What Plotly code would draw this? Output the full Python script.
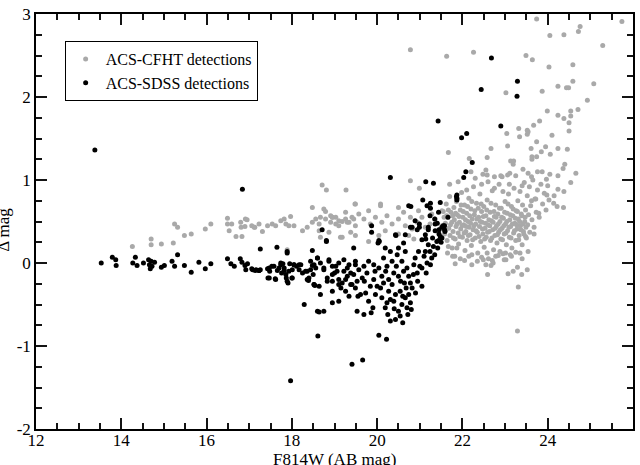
import plotly.graph_objects as go

# ---------------- data ----------------
cfht_points = [
    # sparse upper-right tail
    (20.78, 2.57), (21.63, 2.49), (22.26, 2.54), (23.74, 2.94), (24.05, 2.74), (24.38, 2.75),
    (24.72, 2.79), (24.76, 2.85), (25.74, 2.91), (25.29, 2.62), (23.49, 2.50), (23.64, 2.45),
    (24.03, 2.36), (24.59, 2.39), (24.59, 2.19), (25.08, 2.16), (24.24, 2.13), (24.44, 2.11),
    (24.49, 2.11), (23.87, 2.07), (23.02, 2.05), (24.93, 1.96), (24.71, 1.85), (23.99, 1.83),
    (24.24, 1.78), (24.54, 1.77), (24.38, 1.74), (24.50, 1.69), (23.81, 1.71), (23.67, 1.66),
    (23.32, 1.62), (23.52, 1.60), (23.54, 1.58), (23.52, 1.55), (24.50, 1.59), (23.04, 1.56),
    (24.10, 1.54), (23.34, 1.52), (23.74, 1.46), (23.06, 1.41), (23.95, 1.40), (23.61, 1.38),
    (24.24, 1.38), (24.46, 1.37), (23.85, 1.34), (24.06, 1.31), (21.67, 1.33), (22.67, 1.38),
    (22.16, 1.26), (22.58, 1.27), (23.63, 1.28), (23.74, 1.28), (23.63, 1.25), (23.13, 1.23),
    (23.20, 1.23), (24.54, 1.83),
    (18.71, 0.94), (18.81, 0.88), (19.27, 0.88), (20.78, 0.99), (19.48, 0.71), (20.08, 0.71),
    (20.99, 0.90), (22.48, 1.07), (22.58, 1.06), (22.75, 1.04), (22.93, 1.04), (23.06, 1.06),
    (23.11, 1.08), (23.19, 1.19), (23.42, 1.13), (23.62, 1.04), (23.54, 1.08), (23.76, 1.10),
    (23.87, 1.10), (23.97, 1.01), (24.05, 1.07), (24.24, 1.05), (24.40, 1.19), (24.36, 1.14),
    (24.54, 0.97), (24.66, 1.08),
    (23.98, 0.82), (24.03, 0.76), (24.14, 0.72), (24.22, 0.68), (24.37, 0.67), (24.15, 0.81),
    (24.24, 0.89), (24.38, 0.86), (23.79, 0.60), (23.68, 0.35), (23.48, 0.32), (23.62, 0.75),
    (23.72, 0.77),
    # lower edge of the faint cloud
    (21.83, -0.01), (21.77, 0.08), (22.59, -0.14), (22.67, -0.03), (22.72, 0.00), (23.07, -0.13),
    (23.19, -0.10), (23.29, -0.05), (23.39, -0.14), (23.52, -0.08), (23.31, -0.29), (23.29, -0.82),
    (22.22, 0.10), (22.49, 0.04), (22.55, -0.02), (22.84, 0.09), (22.98, 0.04), (23.01, 0.12),
    (23.15, 0.08), (23.35, 0.12), (23.54, 0.14), (21.67, 0.20), (21.87, 0.18),
    # bright band
    (14.26, 0.20), (14.70, 0.29), (14.70, 0.22), (14.94, 0.23), (15.22, 0.24), (15.25, 0.47),
    (15.32, 0.43), (15.48, 0.33), (15.64, 0.35), (15.97, 0.41), (16.10, 0.47), (16.49, 0.54),
    (16.49, 0.47), (16.59, 0.47), (16.53, 0.39), (16.69, 0.32), (16.83, 0.32), (16.80, 0.49),
    (16.81, 0.43), (16.90, 0.44), (16.91, 0.53), (16.95, 0.52), (17.06, 0.45), (17.13, 0.43),
    (17.23, 0.47), (17.89, 0.16),
    (17.12, 0.43), (17.31, 0.38), (17.43, 0.45), (17.54, 0.47), (17.62, 0.45), (17.74, 0.51),
    (17.82, 0.53), (17.86, 0.47), (17.97, 0.56), (17.93, 0.45), (18.05, 0.45), (18.25, 0.39),
    (18.36, 0.43), (18.48, 0.49), (18.56, 0.53), (18.64, 0.47), (18.67, 0.55), (18.79, 0.53),
    (18.91, 0.49), (18.95, 0.55), (19.03, 0.47), (19.10, 0.45), (19.18, 0.50), (19.26, 0.53),
    (19.34, 0.49), (19.41, 0.55), (19.49, 0.45), (18.67, 0.31), (19.14, 0.31), (19.38, 0.37),
    (18.48, 0.67), (18.79, 0.62), (18.91, 0.57), (19.03, 0.55), (19.26, 0.61), (19.49, 0.71),
    (18.75, 0.65), (18.95, 0.55), (19.10, 0.51), (19.30, 0.49), (19.45, 0.53), (19.57, 0.59),
    (19.69, 0.53), (19.80, 0.63), (19.84, 0.47), (19.96, 0.55), (20.08, 0.69), (20.11, 0.49),
    (20.23, 0.57), (20.35, 0.47), (20.50, 0.67), (20.50, 0.53), (20.62, 0.61), (20.66, 0.45),
    (20.78, 0.55), (20.82, 0.41), (20.94, 0.49), (20.97, 0.63), (21.05, 0.55), (21.13, 0.43),
    (21.24, 0.47), (21.28, 0.59), (21.36, 0.53), (21.48, 0.41), (21.59, 0.47), (21.63, 0.57),
    (21.52, 0.63), (18.64, 0.39), (18.87, 0.37), (19.18, 0.31), (19.49, 0.33), (19.80, 0.26),
    (20.04, 0.33), (20.19, 0.39), (20.50, 0.35), (20.74, 0.33), (20.86, 0.29),
    # dense faint cloud
    (21.55, 0.62), (21.58, 0.35), (21.60, 0.48), (21.62, 0.71), (21.64, 0.27), (21.66, 0.55),
    (21.68, 0.42), (21.70, 0.80), (21.71, 0.33), (21.73, 0.61), (21.75, 0.49), (21.76, 0.18),
    (21.78, 0.38), (21.80, 0.67), (21.81, 0.52), (21.83, 0.29), (21.85, 0.44), (21.86, 0.74),
    (21.88, 0.58), (21.90, 0.36), (21.91, 0.23), (21.93, 0.49), (21.95, 0.64), (21.96, 0.41),
    (21.98, 0.85), (22.00, 0.31), (22.01, 0.55), (22.03, 0.46), (22.05, 0.70), (22.06, 0.15),
    (22.08, 0.38), (22.10, 0.60), (22.11, 0.27), (22.13, 0.50), (22.15, 0.78), (22.16, 0.43),
    (22.18, 0.34), (22.20, 0.65), (22.21, 0.21), (22.23, 0.53), (22.25, 0.40), (22.26, 0.92),
    (22.28, 0.58), (22.30, 0.30), (22.31, 0.47), (22.33, 0.72), (22.35, 0.37), (22.36, 0.12),
    (22.38, 0.55), (22.40, 0.44), (22.41, 0.83), (22.43, 0.26), (22.45, 0.62), (22.46, 0.49),
    (22.48, 0.35), (22.50, 0.68), (22.51, 0.19), (22.53, 0.42), (22.55, 0.57), (22.56, 0.31),
    (22.58, 0.76), (22.60, 0.46), (22.61, 0.05), (22.63, 0.38), (22.65, 0.61), (22.66, 0.27),
    (22.68, 0.51), (22.70, 0.87), (22.71, 0.40), (22.73, 0.16), (22.75, 0.56), (22.76, 0.33),
    (22.78, 0.70), (22.80, 0.45), (22.81, 0.24), (22.83, 0.59), (22.85, 0.37), (22.86, 0.95),
    (22.88, 0.50), (22.90, 0.29), (22.91, 0.66), (22.93, 0.42), (22.95, 0.11), (22.96, 0.54),
    (22.98, 0.35), (23.00, 0.74), (23.01, 0.47), (23.03, 0.22), (23.05, 0.60), (23.06, 0.39),
    (23.08, 0.83), (23.10, 0.31), (23.11, 0.52), (23.13, 0.44), (23.15, 0.68), (23.16, 0.18),
    (23.18, 0.57), (23.20, 0.36), (23.21, 0.90), (23.23, 0.48), (23.25, 0.27), (23.26, 0.63),
    (23.28, 0.41), (23.30, 0.75), (23.31, 0.53), (23.33, 0.33), (23.35, 0.86), (23.36, 0.45),
    (23.38, 0.59), (23.40, 0.22), (23.41, 0.70), (23.43, 0.38), (23.45, 0.97), (23.46, 0.50),
    (23.48, 0.64), (23.50, 0.30), (23.52, 0.81), (23.53, 0.46), (23.55, 0.58), (23.57, 0.92),
    (23.58, 0.37), (23.60, 0.69), (23.63, 0.52), (23.65, 1.00), (23.68, 0.43), (23.70, 0.77),
    (23.73, 0.61), (23.76, 0.88), (23.80, 0.55), (23.84, 0.95), (23.88, 0.71), (23.92, 0.84),
    (23.96, 0.64), (24.00, 0.93),
    (21.52, 0.45), (21.57, 0.55), (21.61, 0.40), (21.67, 0.64), (21.72, 0.46), (21.77, 0.57),
    (21.79, 0.30), (21.84, 0.60), (21.87, 0.47), (21.92, 0.56), (21.94, 0.32), (21.97, 0.70),
    (21.99, 0.45), (22.02, 0.62), (22.04, 0.36), (22.07, 0.52), (22.09, 0.44), (22.12, 0.68),
    (22.14, 0.33), (22.17, 0.57), (22.19, 0.48), (22.22, 0.74), (22.24, 0.28), (22.27, 0.45),
    (22.29, 0.63), (22.32, 0.39), (22.34, 0.53), (22.37, 0.66), (22.39, 0.32), (22.42, 0.50),
    (22.44, 0.71), (22.47, 0.41), (22.49, 0.56), (22.52, 0.29), (22.54, 0.48), (22.57, 0.64),
    (22.59, 0.37), (22.62, 0.52), (22.64, 0.45), (22.67, 0.72), (22.69, 0.30), (22.72, 0.49),
    (22.74, 0.62), (22.77, 0.42), (22.79, 0.55), (22.82, 0.34), (22.84, 0.47), (22.87, 0.66),
    (22.89, 0.40), (22.92, 0.55), (22.94, 0.28), (22.97, 0.45), (22.99, 0.61), (23.02, 0.36),
    (23.04, 0.50), (23.07, 0.71), (23.09, 0.43), (23.12, 0.58), (23.14, 0.30), (23.17, 0.47),
    (23.19, 0.65), (23.22, 0.39), (23.24, 0.54), (23.27, 0.46), (23.29, 0.62), (23.32, 0.28),
    (23.34, 0.50), (23.37, 0.40), (23.39, 0.57), (23.42, 0.47), (23.44, 0.35), (23.47, 0.55),
    (23.49, 0.43),
    (21.65, 0.12), (21.82, 0.08), (21.95, 0.05), (22.05, 0.03), (22.15, 0.08), (22.22, -0.02),
    (22.35, 0.02), (22.45, 0.07), (22.58, 0.12), (22.70, 0.03), (22.78, 0.08), (22.88, 0.14),
    (23.02, 0.04), (23.12, 0.10), (23.25, 0.13), (23.40, 0.05), (21.70, 0.95), (21.90, 0.98),
    (22.10, 0.88), (22.30, 1.02), (22.45, 0.95), (22.60, 0.98), (22.75, 0.90), (22.95, 0.86),
    (23.10, 0.95), (23.25, 1.05), (23.40, 0.93), (22.20, 1.10), (22.55, 1.12), (22.90, 1.05),
]

sdss_points = [
    (13.38, 1.36), (16.84, 0.89),
    (22.68, 2.47), (23.29, 2.19), (22.44, 2.09), (23.28, 2.01), (21.43, 1.71), (22.90, 1.65),
    (21.98, 1.51), (22.10, 1.56), (22.23, 1.21), (22.03, 1.03), (22.08, 1.10), (20.31, 1.03),
    (21.14, 0.98), (21.32, 0.96), (21.87, 0.82), (21.87, 0.78), (21.87, 0.76), (21.86, 0.80),
    (20.79, 0.68), (21.07, 0.76), (21.25, 0.72), (21.25, 0.66), (21.48, 0.73), (21.66, 0.55),
    (21.35, 0.53), (20.89, 0.51), (20.99, 0.47), (20.99, 0.43), (21.20, 0.43), (21.20, 0.40),
    (21.41, 0.48), (21.58, 0.45), (21.58, 0.40), (21.45, 0.35), (20.82, 0.43), (20.66, 0.34),
    (20.44, 0.33), (20.04, 0.27), (19.87, 0.45), (19.87, 0.37), (18.71, 0.40), (18.81, 0.27),
    (21.14, 0.29), (21.44, 0.27), (21.52, 0.30),
    # bright strand
    (13.53, 0.00), (13.79, 0.07), (13.87, 0.04), (13.88, -0.03), (14.27, 0.00), (14.33, 0.07),
    (14.37, -0.03), (14.52, 0.00), (14.64, 0.04), (14.66, -0.02), (14.68, -0.07), (14.72, -0.04),
    (14.70, 0.02), (14.78, 0.01), (14.94, -0.05), (15.01, -0.03), (15.19, 0.02), (15.25, -0.04),
    (15.32, 0.10), (15.48, -0.03), (15.64, -0.11), (15.82, 0.01), (15.97, -0.07), (16.10, -0.01),
    (16.49, 0.05), (16.57, -0.01), (16.65, -0.04), (16.79, 0.05), (16.83, 0.01), (16.90, -0.03),
    (16.96, -0.01), (17.06, -0.07), (17.14, -0.09), (17.23, -0.09),
    (16.92, -0.08), (17.08, -0.08), (17.16, -0.08), (17.26, -0.08), (17.26, 0.17), (17.43, -0.07),
    (17.44, -0.18), (17.48, -0.10), (17.53, -0.04), (17.61, -0.19), (17.65, 0.19), (17.66, -0.09),
    (17.70, -0.06), (17.74, -0.02), (17.76, -0.12), (17.79, -0.01), (17.82, -0.09), (17.86, -0.14),
    (17.87, -0.18), (17.89, 0.12), (17.91, -0.24), (17.95, -0.01), (18.00, -0.18), (18.01, -0.08),
    (18.05, -0.02), (18.11, -0.04), (18.17, -0.08), (18.21, -0.02), (18.29, -0.50), (18.39, -0.21),
    (18.44, -0.08), (18.48, 0.15), (18.48, -0.03), (18.50, -0.14), (18.54, -0.27), (18.60, 0.06),
    (18.60, -0.58), (18.61, -0.88), (17.97, -1.42), (17.89, 0.14), (18.81, 0.26), (19.45, 0.18),
    (17.23, -0.09), (17.47, -0.06), (17.58, -0.04), (17.74, 0.00), (17.82, -0.06), (17.93, -0.10),
    (18.05, -0.02), (18.25, -0.12), (18.36, -0.10), (18.52, -0.02), (18.67, 0.00), (18.75, -0.06),
    (18.87, 0.04), (18.95, -0.04), (19.06, -0.10), (19.10, 0.00), (19.22, 0.04), (19.30, -0.06),
    (19.38, -0.12), (19.49, -0.02), (17.47, -0.18), (17.62, -0.20), (17.89, -0.22), (18.01, -0.18),
    (18.40, -0.18), (18.52, -0.26), (18.64, -0.28), (18.83, -0.18), (18.95, -0.22), (19.10, -0.26),
    (19.26, -0.20), (19.41, -0.26), (19.53, -0.22),
    # faint cloud
    (20.05, 0.26), (20.02, 0.24), (18.64, -0.59), (18.75, -0.58), (18.95, -0.48), (20.04, -0.87),
    (20.22, -0.92), (19.53, -0.58), (19.69, -0.62), (19.86, -0.60), (19.90, -0.54), (20.31, -0.70),
    (20.43, -0.68), (20.54, -0.64), (20.50, -0.58), (20.19, -0.54), (20.23, -0.48), (20.31, -0.44),
    (19.34, -0.40), (19.26, -0.34), (19.10, -0.46), (19.18, -0.24), (19.38, -0.26), (19.49, -0.30),
    (19.61, -0.38), (19.73, -0.36), (19.84, -0.28), (19.96, -0.38), (20.08, -0.30), (20.15, -0.24),
    (20.27, -0.34), (20.43, -0.38), (20.54, -0.34), (20.66, -0.42), (20.74, -0.38), (20.82, -0.30),
    (20.78, -0.24), (20.64, -0.24), (19.45, -0.14), (19.57, -0.08), (19.69, -0.04), (19.80, 0.02),
    (19.92, -0.02), (20.04, -0.06), (20.15, 0.06), (20.23, -0.04), (20.35, 0.02), (20.47, 0.10),
    (20.58, 0.02), (20.70, -0.06), (20.86, -0.02), (20.94, -0.12), (21.05, -0.06), (21.17, 0.00),
    (21.28, 0.06), (21.24, 0.14), (21.13, 0.14), (21.32, 0.20), (21.40, 0.26), (21.48, 0.32),
    (21.59, 0.38), (21.52, 0.43), (21.36, 0.39), (20.97, 0.14), (20.89, 0.06), (20.66, 0.14),
    (20.50, 0.18), (20.31, 0.14), (18.17, -0.02), (18.32, -0.10), (18.44, 0.02), (18.56, -0.06),
    (18.60, 0.06), (18.75, -0.08), (18.87, 0.02), (18.95, -0.14), (19.03, -0.04), (19.10, -0.20),
    (19.22, -0.10), (19.34, -0.02), (18.36, -0.20), (18.52, -0.26), (18.83, -0.22), (18.95, -0.34),
    (18.67, -0.38), (19.49, 0.02), (19.65, -0.18), (19.76, -0.12), (19.92, -0.20), (20.11, -0.16),
    (20.27, -0.20), (20.39, -0.12), (20.50, -0.16), (20.62, -0.10), (20.74, -0.16), (20.11, -0.42),
    (20.39, -0.46), (20.58, -0.50), (20.70, -0.54), (20.78, -0.48), (20.74, 0.69), (21.17, 0.69),
    (21.24, 0.57), (21.36, 0.47), (21.44, 0.61), (21.13, 0.34), (21.05, 0.28), (20.94, 0.40),
    (20.78, 0.43), (20.43, 0.34), (20.62, 0.24), (20.19, 0.18),
    (19.00, -0.12), (19.15, -0.30), (19.30, -0.16), (19.55, -0.40), (19.70, -0.22), (19.80, -0.46),
    (19.95, -0.10), (20.00, -0.28), (20.20, -0.10), (20.35, -0.26), (20.45, -0.04), (20.55, -0.22),
    (20.60, -0.40), (20.68, -0.30), (20.72, -0.62), (20.80, -0.56), (20.85, -0.14), (20.90, -0.36),
    (20.95, -0.22), (21.00, -0.04), (21.05, -0.28), (21.10, 0.08), (21.15, -0.12), (21.20, 0.22),
    (21.25, -0.02), (21.30, 0.30), (21.35, 0.10), (21.42, 0.18), (21.45, 0.40), (21.50, 0.25),
    (21.55, 0.45), (20.40, -0.55), (20.25, -0.62), (20.60, -0.72), (19.41, -1.22), (19.66, -1.17),
]

cfht_mag = [p[0] for p in cfht_points]
cfht_dmag = [p[1] for p in cfht_points]
sdss_mag = [p[0] for p in sdss_points]
sdss_dmag = [p[1] for p in sdss_points]

x_tick_vals = [12, 14, 16, 18, 20, 22, 24, 26]
x_tick_text = ["12", "14", "16", "18", "20", "22", "24", "26"]
y_tick_vals = [-2, -1, 0, 1, 2, 3]
y_tick_text = ["-2", "-1", "0", "1", "2", "3"]

FONT = "Liberation Serif"
TICK_COLOR = "#141414"

fig = go.Figure()
fig.add_trace(go.Scatter(
    x=cfht_mag, y=cfht_dmag, mode="markers", name="ACS-CFHT detections",
    marker=dict(color="#a9a9a9", size=5, line=dict(width=0)),
))
fig.add_trace(go.Scatter(
    x=sdss_mag, y=sdss_dmag, mode="markers", name="ACS-SDSS detections",
    marker=dict(color="#000000", size=5, line=dict(width=0)),
))

axis_common = dict(
    showgrid=False, zeroline=False, showline=True, linecolor="black", linewidth=1.5,
    mirror="allticks", ticks="inside", ticklen=11, tickwidth=1.5, tickcolor=TICK_COLOR,
    tickfont=dict(family=FONT, size=17, color="black"),
)

fig.update_xaxes(
    range=[12, 26], tickvals=x_tick_vals, ticktext=x_tick_text, ticklabelstandoff=-5,
    minor=dict(dtick=0.5, ticks="inside", ticklen=6, tickwidth=1.5, tickcolor=TICK_COLOR, showgrid=False),
    **axis_common,
)
fig.update_yaxes(
    range=[-2, 3], tickvals=y_tick_vals, ticktext=y_tick_text,
    minor=dict(dtick=0.25, ticks="inside", ticklen=6, tickwidth=1.5, tickcolor=TICK_COLOR, showgrid=False),
    **axis_common,
)

fig.update_layout(
    width=640, height=465,
    margin=dict(l=36, r=5, t=10, b=36, pad=0),
    paper_bgcolor="white", plot_bgcolor="white",
    font=dict(family=FONT, size=16, color="black"),
    showlegend=True,
    legend=dict(
        x=0.048, y=0.935, xanchor="left", yanchor="top",
        bgcolor="white", bordercolor="black", borderwidth=1,
        font=dict(family=FONT, size=16, color="black"),
        tracegroupgap=0,
    ),
    annotations=[
        dict(text="F814W (AB mag)", xref="paper", yref="paper", x=0.5, y=0,
             xanchor="center", yanchor="middle", yshift=-30, showarrow=False,
             font=dict(family=FONT, size=17, color="black")),
        dict(text="Δ mag", xref="paper", yref="paper", x=0, y=0.48,
             xanchor="center", yanchor="middle", xshift=-32, textangle=-90, showarrow=False,
             font=dict(family=FONT, size=17, color="black")),
    ],
)

fig.write_html("out.html")
